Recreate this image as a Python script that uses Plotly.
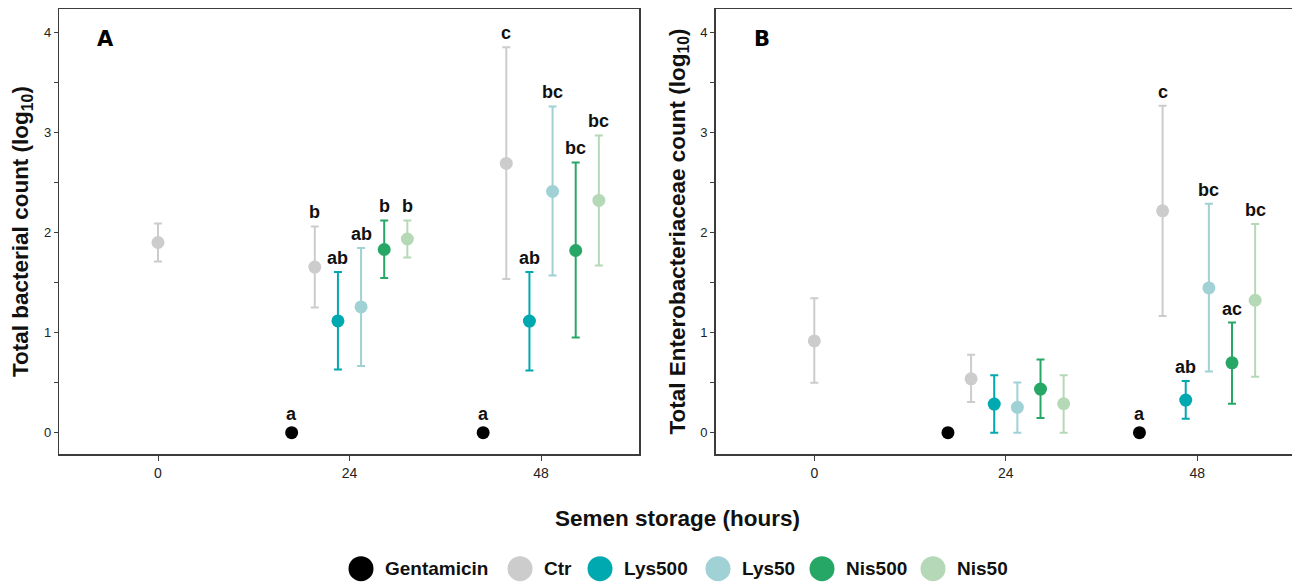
import plotly.graph_objects as go

# ---------------- data ----------------
times = [0, 24, 48]
groups = ["Gentamicin", "Ctr", "Lys500", "Lys50", "Nis500", "Nis50"]
colors = ["#000000", "#cccccc", "#00a8b0", "#9fd1d5", "#27a766", "#b5d8b6"]

# Panel A: Total bacterial count (log10)
A_mean = {
    "Gentamicin": [None, 0.0, 0.0],
    "Ctr":        [1.90, 1.655, 2.69],
    "Lys500":     [None, 1.117, 1.115],
    "Lys50":      [None, 1.256, 2.41],
    "Nis500":     [None, 1.83, 1.82],
    "Nis50":      [None, 1.935, 2.32],
}
A_upper = {
    "Gentamicin": [None, 0.0, 0.0],
    "Ctr":        [2.09, 2.06, 3.85],
    "Lys500":     [None, 1.605, 1.605],
    "Lys50":      [None, 1.845, 3.26],
    "Nis500":     [None, 2.12, 2.70],
    "Nis50":      [None, 2.12, 2.97],
}
A_lower = {
    "Gentamicin": [None, 0.0, 0.0],
    "Ctr":        [1.71, 1.25, 1.535],
    "Lys500":     [None, 0.63, 0.62],
    "Lys50":      [None, 0.665, 1.57],
    "Nis500":     [None, 1.545, 0.95],
    "Nis50":      [None, 1.75, 1.67],
}
A_letters = {
    "Gentamicin": [None, "a", "a"],
    "Ctr":        ["", "b", "c"],
    "Lys500":     [None, "ab", "ab"],
    "Lys50":      [None, "ab", "bc"],
    "Nis500":     [None, "b", "bc"],
    "Nis50":      [None, "b", "bc"],
}

# Panel B: Total Enterobacteriaceae count (log10)
B_mean = {
    "Gentamicin": [None, 0.0, 0.0],
    "Ctr":        [0.917, 0.538, 2.217],
    "Lys500":     [None, 0.286, 0.326],
    "Lys50":      [None, 0.253, 1.446],
    "Nis500":     [None, 0.436, 0.698],
    "Nis50":      [None, 0.289, 1.323],
}
B_upper = {
    "Gentamicin": [None, 0.0, 0.0],
    "Ctr":        [1.343, 0.778, 3.267],
    "Lys500":     [None, 0.575, 0.516],
    "Lys50":      [None, 0.502, 2.287],
    "Nis500":     [None, 0.732, 1.10],
    "Nis50":      [None, 0.575, 2.084],
}
B_lower = {
    "Gentamicin": [None, 0.0, 0.0],
    "Ctr":        [0.50, 0.306, 1.167],
    "Lys500":     [None, 0.0, 0.14],
    "Lys50":      [None, 0.0, 0.612],
    "Nis500":     [None, 0.147, 0.289],
    "Nis50":      [None, 0.0, 0.558],
}
B_letters = {
    "Gentamicin": [None, "", "a"],
    "Ctr":        ["", "", "c"],
    "Lys500":     [None, "", "ab"],
    "Lys50":      [None, "", "bc"],
    "Nis500":     [None, "", "ac"],
    "Nis50":      [None, "", "bc"],
}

panel_letters = ["A", "B"]
y_titles = ["Total bacterial count (log<sub>10</sub>)",
            "Total Enterobacteriaceae count (log<sub>10</sub>)"]
x_title = "Semen storage (hours)"

# ---------------- layout constants ----------------
W, H = 1292, 585
DODGE = 2.9                 # hours between dodged groups
FONT = "Liberation Sans, Arial, sans-serif"
TICKFONT = "Liberation Sans, Arial, sans-serif"


def px(xp):
    return xp / W


def py(yp):
    return 1 - yp / H


fig = go.Figure()
annotations = []
shapes = []


def dodge_x(t_idx, g, mean):
    present = [gg for gg in groups if mean[gg][t_idx] is not None]
    n = len(present)
    i = present.index(g)
    return times[t_idx] + (i - (n - 1) / 2) * DODGE


panels = [
    (A_mean, A_upper, A_lower, A_letters, "x", "y"),
    (B_mean, B_upper, B_lower, B_letters, "x2", "y2"),
]

for mean, upper, lower, letters, xa, ya in panels:
    for g, c in zip(groups, colors):
        xs, ys, eplus, eminus = [], [], [], []
        for ti in range(len(times)):
            m = mean[g][ti]
            if m is None:
                continue
            x = dodge_x(ti, g, mean)
            xs.append(x)
            ys.append(m)
            eplus.append(upper[g][ti] - m)
            eminus.append(m - lower[g][ti])
            lab = letters[g][ti]
            if lab:
                top = upper[g][ti]
                shift = 14 if upper[g][ti] > m else 19
                annotations.append(dict(
                    x=x, y=top, xref=xa, yref=ya, text="<b>%s</b>" % lab,
                    showarrow=False, yanchor="middle", xanchor="center",
                    yshift=shift, font=dict(family=FONT, size=18, color="#111111")))
        has_err = any(v > 0 for v in eplus + eminus)
        fig.add_trace(go.Scatter(
            x=xs, y=ys, mode="markers", name=g, xaxis=xa, yaxis=ya,
            showlegend=False, hoverinfo="skip",
            marker=dict(color=c, size=13, line=dict(width=0)),
            error_y=dict(type="data", symmetric=False, array=eplus,
                         arrayminus=eminus, color=c, thickness=2, width=4,
                         visible=has_err),
        ))

# ---------------- axes ----------------
ydom = [py(454.3), py(9.3)]
yrange = [-0.216, 4.23]
pxh = 191.5 / 24.0
axA_left, axA_zero, axA_right = 59.4, 158.0, 639.0
axB_left, axB_zero, axB_right = 715.6, 814.3, 1296.0

line_col = "#3c3c3c"
common_x = dict(tickmode="array", tickvals=times, ticktext=[str(t) for t in times],
                showline=True, linecolor=line_col, linewidth=1.5, mirror=True,
                ticks="outside", ticklen=5, tickwidth=1, tickcolor=line_col,
                showgrid=False, zeroline=False, automargin=False,
                tickfont=dict(family=TICKFONT, size=14, color="#222222"))
common_y = dict(domain=ydom, range=yrange, tick0=0, dtick=1,
                showline=True, linecolor=line_col, linewidth=1.5,
                ticks="outside", ticklen=4, tickwidth=1, tickcolor=line_col,
                showgrid=False, zeroline=False, automargin=False,
                minor=dict(dtick=0.5, tick0=0, ticks="outside", ticklen=4,
                           tickwidth=1, tickcolor=line_col, showgrid=False),
                tickfont=dict(family=TICKFONT, size=13, color="#222222"))

xB_right_px = min(float(W), axB_right)
fig.update_layout(
    xaxis=dict(domain=[px(axA_left), px(axA_right)],
               range=[-(axA_zero - axA_left) / pxh, (axA_right - axA_zero) / pxh],
               anchor="y", **common_x),
    yaxis=dict(anchor="x", mirror=True, **common_y),
    xaxis2=dict(domain=[px(axB_left), px(xB_right_px)],
                range=[-(axB_zero - axB_left) / pxh, (xB_right_px - axB_zero) / pxh],
                anchor="y2", **common_x),
    yaxis2=dict(anchor="x2", mirror=False, **common_y),
)

# panel letters
for lab, left in zip(panel_letters, [axA_left, axB_left]):
    annotations.append(dict(
        x=px(left + 46), y=py(39), xref="paper", yref="paper",
        text="<b>%s</b>" % lab, showarrow=False, xanchor="center", yanchor="middle",
        font=dict(family="DejaVu Sans, sans-serif", size=21, color="#000000")))

# axis titles
for t, xc in zip(y_titles, [22.5, 679.0]):
    annotations.append(dict(
        x=px(xc), y=py(231.5), xref="paper", yref="paper", text="<b>%s</b>" % t,
        showarrow=False, textangle=-90, xanchor="center", yanchor="middle",
        font=dict(family=FONT, size=22.5, color="#111111")))
annotations.append(dict(
    x=px(677), y=py(518), xref="paper", yref="paper", text="<b>%s</b>" % x_title,
    showarrow=False, xanchor="center", yanchor="middle",
    font=dict(family=FONT, size=22.5, color="#111111")))

# manual legend (large circles)
leg_centers = [361, 520, 600, 718, 822, 933]
leg_y = py(568.7)
for g, c, cx in zip(groups, colors, leg_centers):
    shapes.append(dict(type="circle", xref="paper", yref="paper",
                       xsizemode="pixel", ysizemode="pixel",
                       xanchor=px(cx), yanchor=leg_y,
                       x0=-12.5, x1=12.5, y0=-12.5, y1=12.5,
                       fillcolor=c, line=dict(width=0)))
    annotations.append(dict(x=px(cx + 22), y=leg_y, xref="paper", yref="paper",
                            text="<b>%s</b>" % g, showarrow=False,
                            xanchor="left", yanchor="middle",
                            font=dict(family=FONT, size=19, color="#111111")))

fig.update_layout(
    width=W, height=H, autosize=False,
    margin=dict(l=0, r=0, t=0, b=0),
    paper_bgcolor="white", plot_bgcolor="white",
    annotations=annotations, shapes=shapes, showlegend=False,
    hovermode=False,
)

fig.write_html(
    "out.html",
    config={"displayModeBar": False, "staticPlot": True},
    post_script="document.body.style.margin='0';"
                "document.body.style.overflow='hidden';",
)
